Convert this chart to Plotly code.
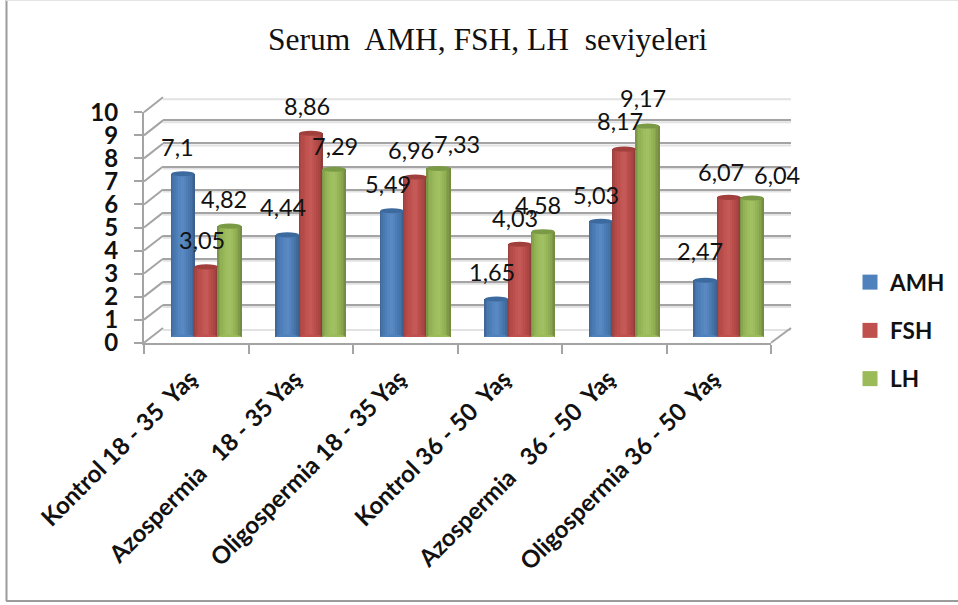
import plotly.graph_objects as go

categories = ["Kontrol 18 - 35\u00a0 Yaş", "Azospermia \u00a0 18 - 35 Yaş", "Oligospermia 18 - 35 Yaş",
              "Kontrol 36 - 50\u00a0 Yaş", "Azospermia \u00a0 36 - 50\u00a0 Yaş", "Oligospermia 36 - 50\u00a0 Yaş"]
amh = [7.1, 4.44, 5.49, 1.65, 5.03, 2.47]
fsh = [3.05, 8.86, 6.96, 4.03, 8.17, 6.07]
lh = [4.82, 7.29, 7.33, 4.58, 9.17, 6.04]
amh_labels = ["7,1", "4,44", "5,49", "1,65", "5,03", "2,47"]
fsh_labels = ["3,05", "8,86", "6,96", "4,03", "8,17", "6,07"]
lh_labels = ["4,82", "7,29", "7,33", "4,58", "9,17", "6,04"]
y_ticks = list(range(11))

W, H = 958, 605
def px(x): return x / W
def py(y): return 1 - y / H

# label nudges (pixels, relative to bar top centre)
amh_nudge = [(-5, 27), (-4.5, 27.4), (-4, 27.2), (-4.5, 27.5), (-5, 26.8), (-5.5, 28.7)]
fsh_nudge = [(-4, 26.4), (-4, 27.7), (-4, 27.4), (-5, 26.8), (-4, 27.6), (-8, 24.9)]
lh_nudge = [(-5.5, 27.6), (1, 23.8), (18.5, 24.9), (-5, 26.2), (-4.5, 27.6), (25, 22.6)]

series = [
    dict(name="AMH", vals=amh, labels=amh_labels, nudge=amh_nudge, base="#4f81bd", cap="#3d6a9e"),
    dict(name="FSH", vals=fsh, labels=fsh_labels, nudge=fsh_nudge, base="#c0504d", cap="#a03f3c"),
    dict(name="LH", vals=lh, labels=lh_labels, nudge=lh_nudge, base="#9bbb59", cap="#7a9a45"),
]

def mix(c, amount):
    # amount < 0 darkens, amount > 0 lightens
    rgb = [int(c[i:i + 2], 16) for i in (1, 3, 5)]
    target = 255 if amount > 0 else 0
    a = abs(amount)
    return "rgb(%d,%d,%d)" % tuple(round(v * (1 - a) + target * a) for v in rgb)

BAR = 70 / 104.5 / 3
# cylinder shading: (start, end, lighten/darken)
strips = [(0.00, 0.06, -0.20), (0.06, 0.12, -0.12), (0.12, 0.20, -0.06), (0.20, 0.30, -0.02), (0.30, 0.42, 0.03),
          (0.42, 0.56, 0.06), (0.56, 0.66, 0.02), (0.66, 0.74, -0.03), (0.74, 0.82, -0.07), (0.82, 0.90, -0.12),
          (0.90, 0.96, -0.18), (0.96, 1.00, -0.25)]

fig = go.Figure()
shapes = []
fig.add_trace(go.Scatter(x=[0], y=[None], xaxis="x", yaxis="y", showlegend=False, hoverinfo="skip"))
fig.add_trace(go.Scatter(x=[0], y=[None], xaxis="x2", yaxis="y2", showlegend=False, hoverinfo="skip"))

annotations = []
for k, s in enumerate(series):
    start = (k - 1.5) * BAR
    fig.add_trace(go.Bar(x=categories, y=s["vals"], name=s["name"], showlegend=False,
                         width=BAR, offset=start, xaxis="x3", yaxis="y3",
                         marker=dict(color=s["base"], line=dict(width=0)), hoverinfo="skip"))
    for a, b, m in strips:
        fig.add_trace(go.Bar(x=categories, y=s["vals"], showlegend=False, width=BAR * (b - a), offset=start + a * BAR,
                             xaxis="x3", yaxis="y3", marker=dict(color=mix(s["base"], m), line=dict(width=0)), hoverinfo="skip"))
    for i, v in enumerate(s["vals"]):
        x0, x1 = i + start, i + start + BAR
        shapes.append(dict(type="circle", xref="x3", yref="y3", x0=x0, x1=x1, y0=-0.11, y1=0.11,
                           fillcolor=s["base"], line=dict(width=0), layer="above"))
        shapes.append(dict(type="circle", xref="x3", yref="y3", x0=x0, x1=x1, y0=v - 0.11, y1=v + 0.11,
                           fillcolor=s["cap"], line=dict(width=0), layer="above"))
        dx, dy = s["nudge"][i]
        annotations.append(dict(x=i + start + BAR / 2, y=v, xref="x3", yref="y3", text=s["labels"][i], showarrow=False,
                                xshift=dx, yshift=dy, font=dict(family="Lato", size=23.5, color="#111111")))

# legend entries with square swatches, and the axis that carries the category labels
for s in series:
    fig.add_trace(go.Scatter(x=[None], y=[None], name=s["name"], legendgroup=s["name"], mode="markers", xaxis="x4", yaxis="y3",
                             marker=dict(symbol="square", size=15, color=s["base"]), hoverinfo="skip"))

GRID = "#a4a4a4"
for t in y_ticks:
    yf = 342.7 - 23.04 * t
    yb = 328 - 23.07 * t
    shapes.append(dict(type="line", xref="paper", yref="paper", x0=px(144), x1=px(163), y0=py(yf), y1=py(yb),
                       line=dict(color=GRID, width=2), layer="below"))
    # soft shadow under each wall gridline
    shapes.append(dict(type="line", xref="paper", yref="paper", x0=px(163), x1=px(791), y0=py(yb + 2), y1=py(yb + 2),
                       line=dict(color="#e2e2e2", width=2), layer="below"))
shapes.append(dict(type="line", xref="paper", yref="paper", x0=px(771), x1=px(791), y0=py(342.7), y1=py(328),
                   line=dict(color=GRID, width=2), layer="below"))
# frame: left and bottom edges, faint top edge
shapes.append(dict(type="line", xref="paper", yref="paper", x0=px(6.5), x1=px(6.5), y0=py(601), y1=py(0),
                   line=dict(color="#9c9c9c", width=2), layer="below"))
shapes.append(dict(type="line", xref="paper", yref="paper", x0=px(6), x1=px(958), y0=py(601), y1=py(601),
                   line=dict(color="#9c9c9c", width=2), layer="below"))
shapes.append(dict(type="line", xref="paper", yref="paper", x0=px(6), x1=px(958), y0=py(0.5), y1=py(0.5),
                   line=dict(color="#e4e4e4", width=1), layer="below"))

annotations.append(dict(x=px(487), y=py(39), xref="paper", yref="paper", yanchor="middle", text="Serum\u00a0 AMH, FSH, LH\u00a0 seviyeleri",
                        showarrow=False, font=dict(family="Liberation Serif", size=31.5, color="#111111")))

fig.update_layout(
    width=W, height=H, margin=dict(l=0, r=0, t=0, b=0, autoexpand=False),
    paper_bgcolor="white", plot_bgcolor="rgba(0,0,0,0)", barmode="overlay", bargap=0,
    shapes=shapes, annotations=annotations,
    legend=dict(x=px(850), y=py(261), xanchor="left", yanchor="top", tracegroupgap=16,
                font=dict(family="Lato", size=22.5, color="#111111", weight="bold"), bgcolor="rgba(0,0,0,0)",
                itemclick=False, itemdoubleclick=False),
    xaxis=dict(domain=[px(163), px(791)], range=[0, 6], automargin=False, showticklabels=False, ticks="", showgrid=False, zeroline=False, showline=False, anchor="y"),
    yaxis=dict(domain=[py(328), py(97.3)], range=[0, 10], automargin=False, tickvals=y_ticks, showticklabels=False, ticks="",
               showgrid=True, gridcolor=GRID, gridwidth=2, zeroline=False, showline=False, anchor="x"),
    xaxis2=dict(domain=[px(144), px(771)], range=[0, 6], automargin=False, tickvals=[0, 1, 2, 3, 4, 5, 6], showticklabels=False, ticks="outside",
                ticklen=9, tickwidth=2, tickcolor=GRID, showline=True, linecolor=GRID, linewidth=2, showgrid=False, zeroline=False, anchor="y2"),
    yaxis2=dict(domain=[py(342.7), py(112.3)], range=[0, 10], automargin=False, tickvals=y_ticks, ticks="outside", ticklen=8, tickwidth=2, tickcolor=GRID,
                ticklabelstandoff=11, showline=True, linecolor=GRID, linewidth=2, showgrid=False, zeroline=False, anchor="x2",
                tickfont=dict(family="Lato", size=24, color="#111111", weight="bold")),
    xaxis3=dict(domain=[px(154), px(781)], range=[-0.5, 5.5], automargin=False, type="category", categoryorder="array", categoryarray=categories,
                showticklabels=False, ticks="", showline=False, showgrid=False, zeroline=False, anchor="y3"),
    xaxis4=dict(domain=[px(138), px(765)], range=[-0.5, 5.5], automargin=False, tickvals=list(range(6)), ticktext=categories,
                tickangle=-45, ticks="", showline=False, showgrid=False, zeroline=False, ticklabelstandoff=22, anchor="y3",
                tickfont=dict(family="Lato", size=24, color="#111111", weight="bold")),
    yaxis3=dict(domain=[py(337), py(107)], range=[0, 10], automargin=False, visible=False, anchor="x3"),
)
fig.write_html("out.html", config=dict(displayModeBar=False),
               post_script="document.body.style.margin='0';")
